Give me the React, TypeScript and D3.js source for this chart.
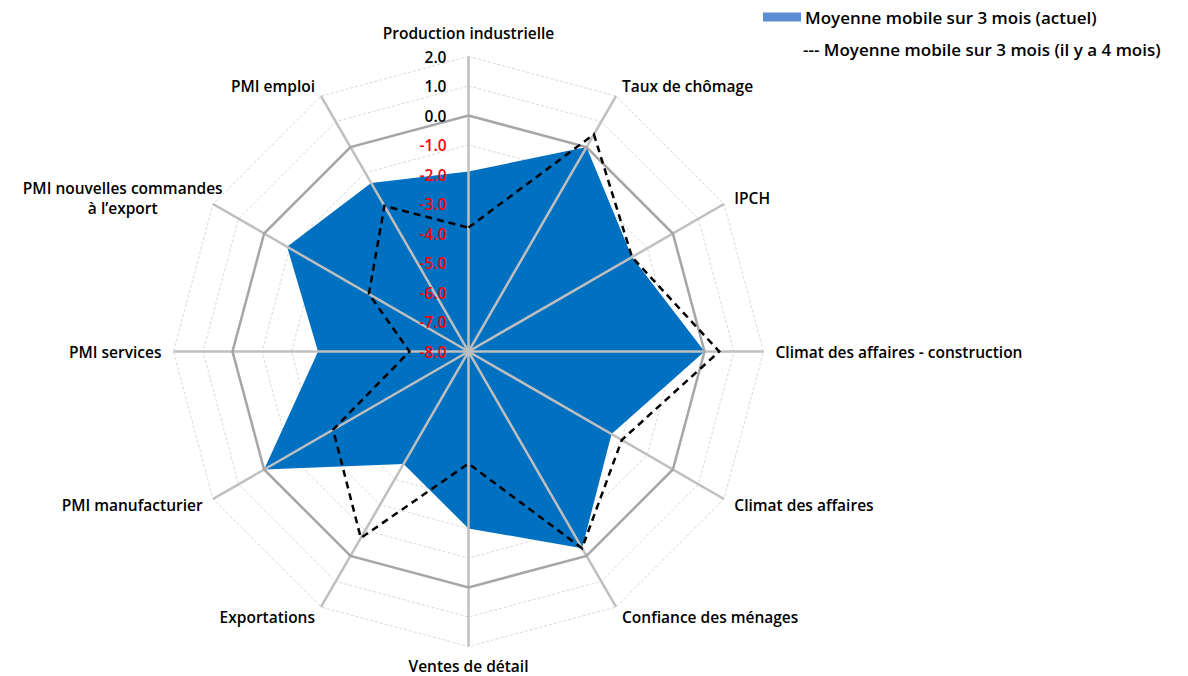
import React, { useEffect, useRef } from "react";
import * as d3 from "d3";

const categories: string[][] = [
  ["Production industrielle"],
  ["Taux de chômage"],
  ["IPCH"],
  ["Climat des affaires - construction"],
  ["Climat des affaires"],
  ["Confiance des ménages"],
  ["Ventes de détail"],
  ["Exportations"],
  ["PMI manufacturier"],
  ["PMI services"],
  ["PMI nouvelles commandes", "à l\u2019export"],
  ["PMI emploi"],
];
const currentValues = [-1.9, 0.0, -1.6, 0.0, -2.4, -0.3, -2.0, -3.6, 0.0, -2.9, -0.9, -1.4];
const previousValues = [-3.8, 0.5, -1.6, 0.5, -2.0, -0.3, -4.2, -0.7, -2.7, -6.0, -4.1, -2.3];
const tickValues = [-8, -7, -6, -5, -4, -3, -2, -1, 0, 1, 2];
const legendLabels = [
  "Moyenne mobile sur 3 mois (actuel)",
  "--- Moyenne mobile sur 3 mois (il y a 4 mois)",
];

const W = 1188;
const H = 676;
const CX = 468.5;
const CY = 351.5;
const R = 295;
const FONT = "'Open Sans', 'Noto Sans', sans-serif";

export default function App() {
  const ref = useRef<SVGSVGElement | null>(null);

  useEffect(() => {
    const svg = d3.select(ref.current);
    svg.selectAll("*").remove();
    const n = categories.length;
    const r = d3.scaleLinear().domain([-8, 2]).range([0, R]);
    const angle = (i: number) => (i * 2 * Math.PI) / n;
    const pt = (i: number, v: number): [number, number] => [
      CX + r(v) * Math.sin(angle(i)),
      CY - r(v) * Math.cos(angle(i)),
    ];
    const g = svg.append("g");

    // dotted rings
    tickValues
      .filter((t) => t !== -8 && t !== 0)
      .forEach((t) => {
        const pts = d3.range(n).map((i) => pt(i, t));
        g.append("path")
          .attr("d", d3.line().curve(d3.curveLinearClosed)(pts))
          .attr("fill", "none")
          .attr("stroke", "#d9d9d9")
          .attr("stroke-width", 1)
          .attr("stroke-dasharray", "3,2");
      });

    // current fill
    const areaPts = currentValues.map((v, i) => pt(i, v));
    g.append("path")
      .attr("d", d3.line().curve(d3.curveLinearClosed)(areaPts))
      .attr("fill", "#0070c0")
      .attr("stroke", "none");

    // spokes
    d3.range(n).forEach((i) => {
      const [x, y] = pt(i, 2);
      g.append("line")
        .attr("x1", CX)
        .attr("y1", CY)
        .attr("x2", x)
        .attr("y2", y)
        .attr("stroke", "#bfbfbf")
        .attr("stroke-width", 2.5);
    });

    // zero ring
    g.append("path")
      .attr(
        "d",
        d3.line().curve(d3.curveLinearClosed)(d3.range(n).map((i) => pt(i, 0)))
      )
      .attr("fill", "none")
      .attr("stroke", "#a6a6a6")
      .attr("stroke-width", 2.5);

    // previous dashed
    g.append("path")
      .attr(
        "d",
        d3.line().curve(d3.curveLinearClosed)(previousValues.map((v, i) => pt(i, v)))
      )
      .attr("fill", "none")
      .attr("stroke", "#000")
      .attr("stroke-width", 2.5)
      .attr("stroke-dasharray", "7,5");

    // tick labels
    tickValues.forEach((t) => {
      g.append("text")
        .attr("x", CX - 22)
        .attr("y", CY - r(t))
        .attr("text-anchor", "end")
        .attr("dominant-baseline", "central")
        .attr("font-family", FONT)
        .attr("font-size", 15.5)
        .attr("font-weight", 600)
        .attr("fill", t < 0 ? "#ff0000" : "#000")
        .text(t.toFixed(1));
    });

    // category labels
    categories.forEach((lines, i) => {
      const a = angle(i);
      const s = Math.sin(a);
      const c = Math.cos(a);
      const ax = CX + (R + 12) * s;
      const ay = CY - (R + 12) * c;
      let anchor = "middle";
      if (s > 0.1) anchor = "start";
      else if (s < -0.1) anchor = "end";
      let yOff = 0;
      if (c > 0.9) yOff = -12;
      if (c < -0.9) yOff = 7;
      const lh = 20;
      const t = g
        .append("text")
        .attr("font-family", FONT)
        .attr("font-size", 15.5)
        .attr("font-weight", 600)
        .attr("fill", "#000")
        .attr("text-anchor", lines.length > 1 ? "middle" : anchor);
      const baseY = ay + yOff - ((lines.length - 1) * lh) / 2;
      const spans = lines.map((ln, k) =>
        t
          .append("tspan")
          .attr("x", ax)
          .attr("y", baseY + k * lh)
          .attr("dominant-baseline", "central")
          .text(ln)
      );
      if (lines.length > 1) {
        const widths = spans.map((sp) => (sp.node() as SVGTextContentElement).getComputedTextLength());
        const maxW = Math.max(...widths);
        const cx = anchor === "end" ? ax + 20 - maxW / 2 : anchor === "start" ? ax + maxW / 2 : ax;
        spans.forEach((sp) => sp.attr("x", cx));
      }
    });

    // legend
    const lg = svg.append("g");
    lg.append("rect")
      .attr("x", 763)
      .attr("y", 12.5)
      .attr("width", 38)
      .attr("height", 9)
      .attr("fill", "#5b8dd5");
    lg.append("text")
      .attr("x", 805)
      .attr("y", 17)
      .attr("dominant-baseline", "central")
      .attr("font-family", FONT)
      .attr("font-size", 17)
      .attr("font-weight", 600)
      .text(legendLabels[0]);
    lg.append("text")
      .attr("x", 803)
      .attr("y", 49)
      .attr("dominant-baseline", "central")
      .attr("font-family", FONT)
      .attr("font-size", 17)
      .attr("font-weight", 600)
      .text(legendLabels[1]);
  }, []);

  return (
    <svg
      ref={ref}
      width={W}
      height={H}
      style={{ position: "absolute", left: 0, top: 0, background: "#fff" }}
    />
  );
}
